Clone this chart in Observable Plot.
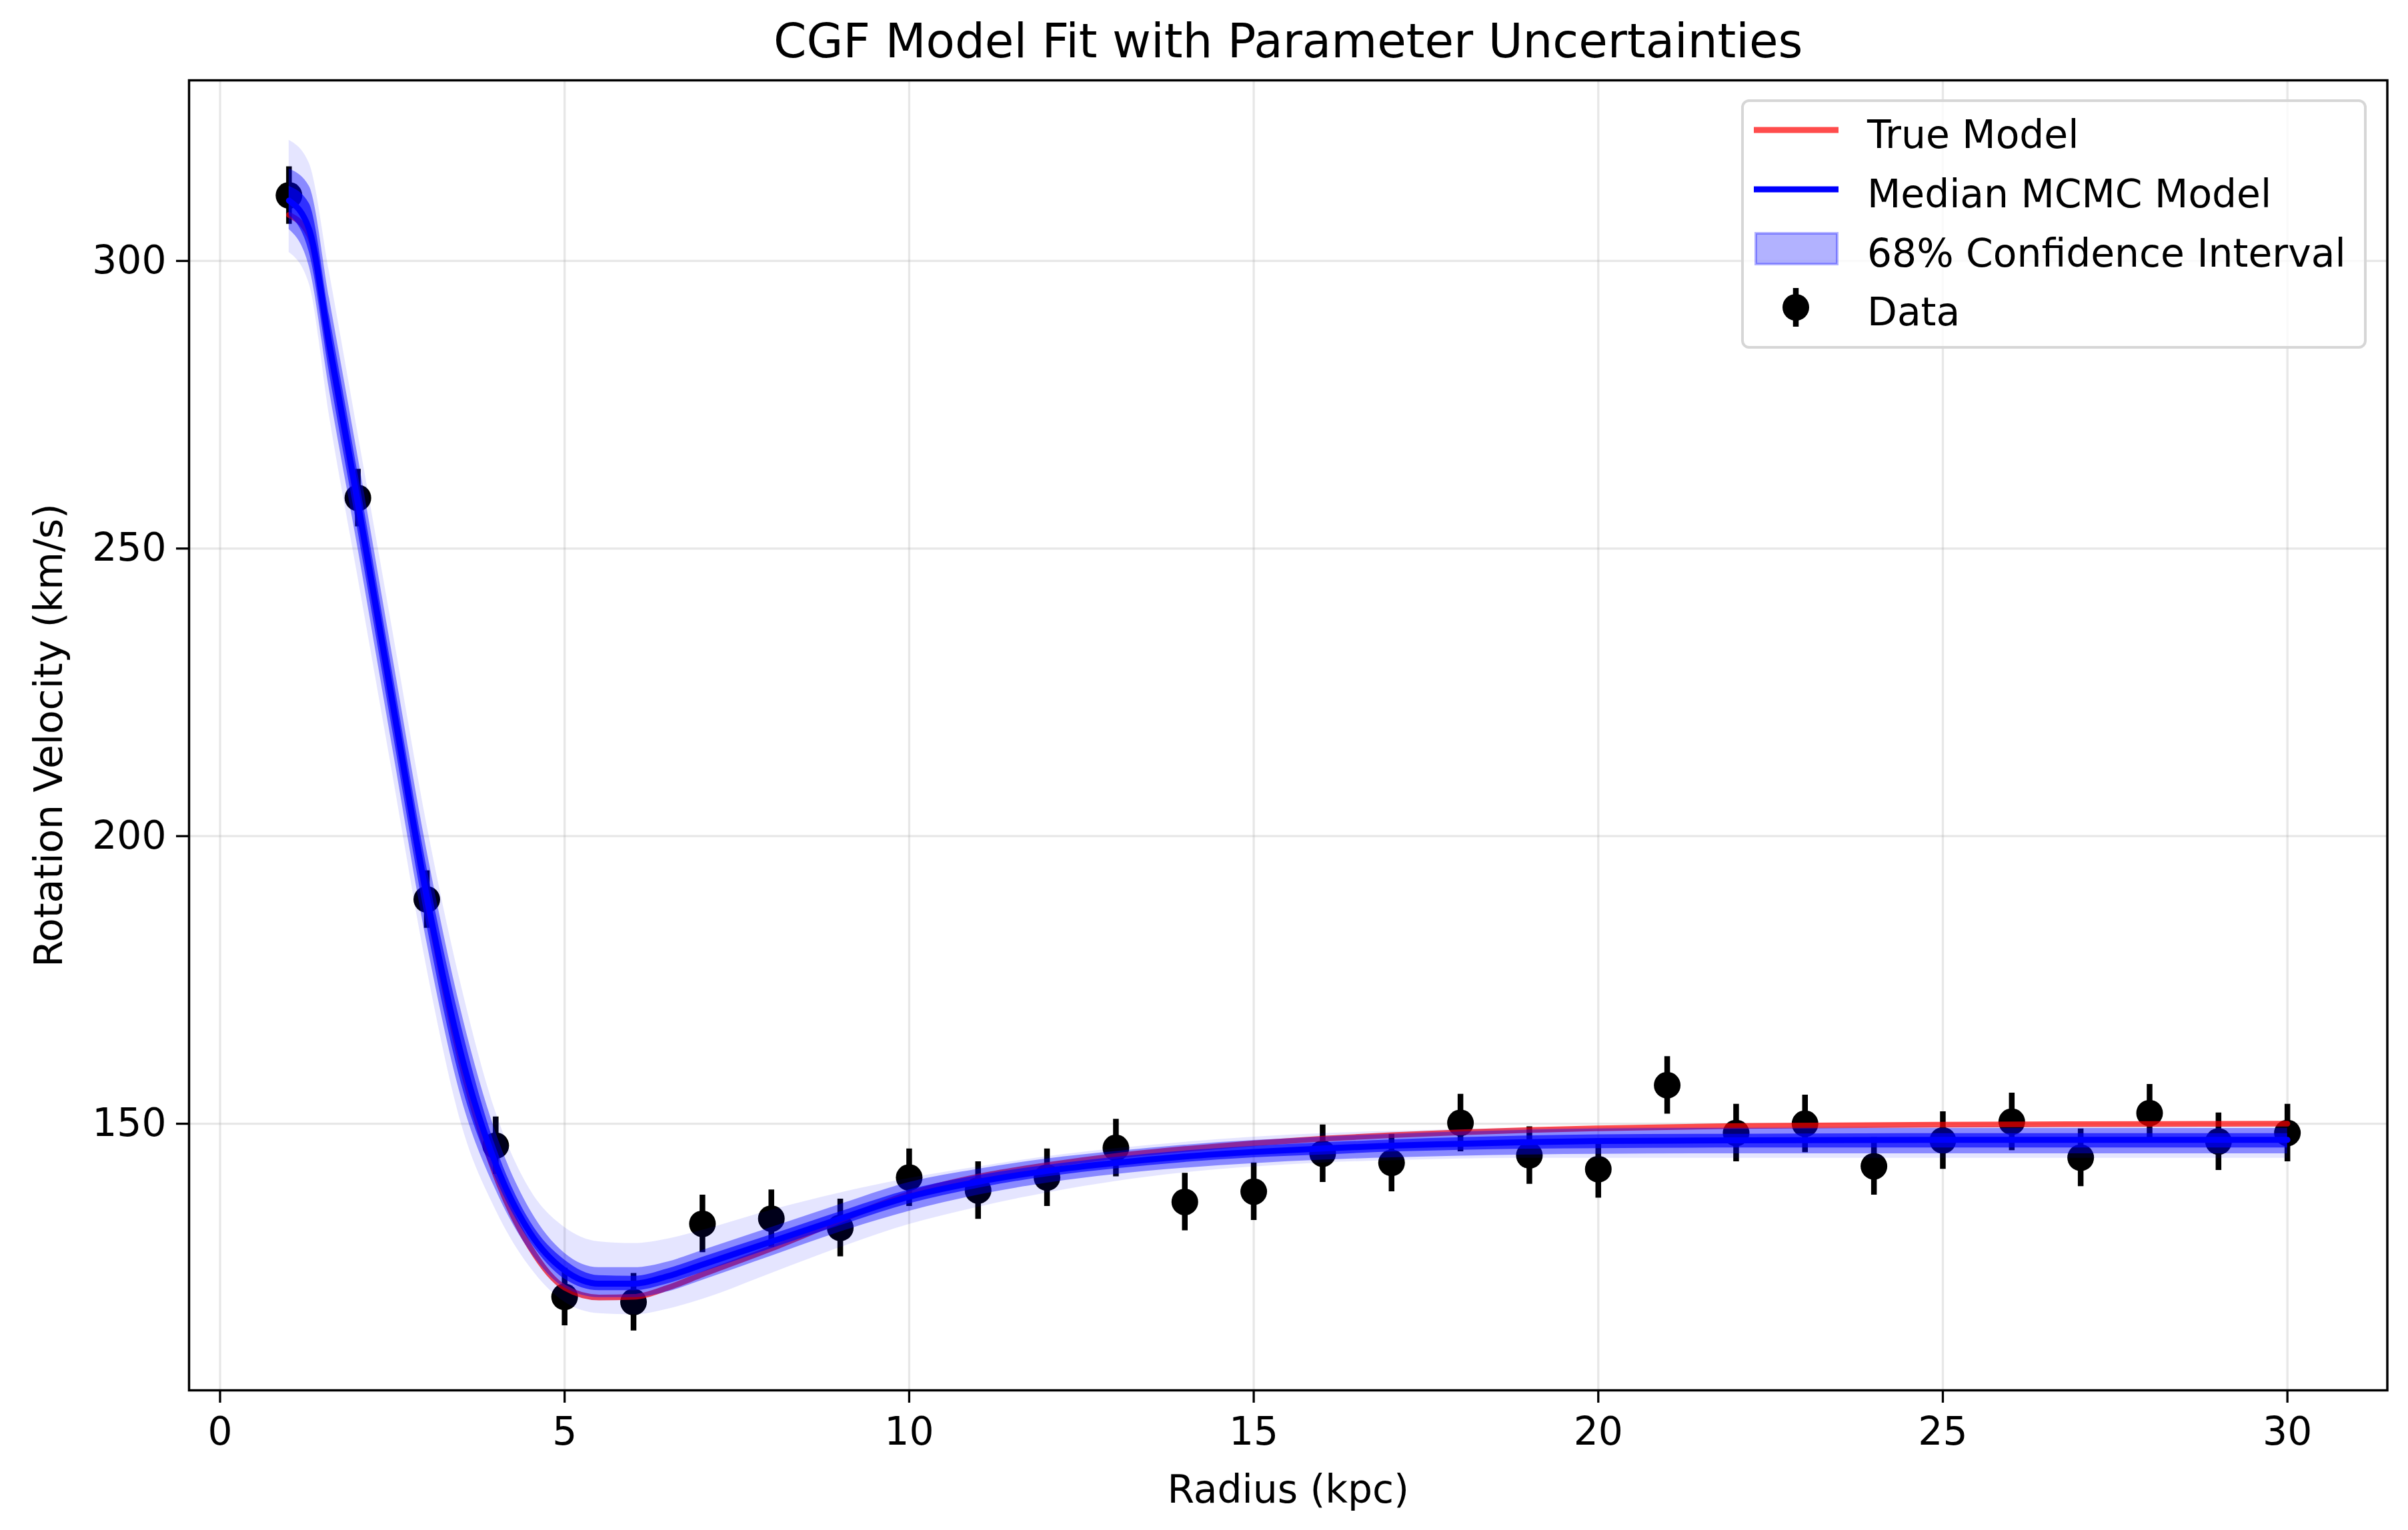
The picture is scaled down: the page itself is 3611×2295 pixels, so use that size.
<!DOCTYPE html>
<html>
<head>
<meta charset="utf-8">
<script src="https://cdn.jsdelivr.net/npm/d3@7"></script>
<script src="https://cdn.jsdelivr.net/npm/@observablehq/plot@0.6"></script>
<style>
  html, body { margin: 0; padding: 0; background: white; }
  #wrap { position: relative; width: 3611px; height: 2295px; }
  #legend {
    position: absolute; left: 2611px; top: 149px; width: 930px; height: 366px;
    border: 4px solid #d6d6d6; border-radius: 12px; background: rgba(255,255,255,0.8);
    font-family: "DejaVu Sans"; font-size: 58.3px; color: black;
  }
  .row { position: absolute; left: 0; height: 60px; }
  .row span { position: absolute; left: 185px; white-space: nowrap; line-height: 1; }
</style>
</head>
<body>
<div id="wrap"></div>
<script>
// ---- observed data ----
const radius = [1,2,3,4,5,6,7,8,9,10,11,12,13,14,15,16,17,18,19,20,21,22,23,24,25,26,27,28,29,30];
const velocity = [311.4,258.8,189.0,146.2,119.9,119.0,132.6,133.5,131.9,140.65,138.4,140.65,145.8,136.4,138.2,144.8,143.2,150.15,144.5,142.1,156.7,148.4,150.0,142.6,147.1,150.35,144.1,151.85,146.9,148.4];
const errors = [5,5,5,5,5,5,5,5,5,5,5,5,5,5,5,5,5,5,5,5,5,5,5,5,5,5,5,5,5,5];

// ---- model curves ----
const modelR = [1,1.293,1.586,2,2.5,3,3.5,4,4.5,5,5.5,6,6.5,7,8,9,10,11,12,13,14,15,16,17,18,19,20,22,25,28,30];
const medianModel = [310.5,305.5,285.5,258,223.5,189.5,162,143,131,124.5,122.2,122.2,123.5,125.5,129.5,133.5,137.3,139.9,141.8,143.2,144.3,145.1,145.7,146.2,146.5,146.8,147.0,147.1,147.2,147.2,147.2];
const trueModel = [308,304.5,285,257.5,223,189,160.5,141,128.5,121.5,119.8,119.9,121.5,123.8,128.3,133.2,137.8,140.8,142.8,144.4,145.6,146.6,147.4,148.0,148.5,148.9,149.2,149.6,149.85,149.95,150.0];
// spread of the MCMC sample curves (outer envelope, 68% band, dense core)
const outerLo = [301.5,296,273,245,211,177,150,135,125,119,117,116.8,117.8,119.5,124,128.5,132.5,135.5,138,140,141.5,142.5,143.2,143.6,143.9,144,144,144,144,144,144];
const outerHi = [321,317,298,270,236,202,174,152,138.5,132,129.5,129.2,130,131.5,135,138,140.5,142.5,144.3,145.7,146.8,147.7,148.3,148.7,149,149.2,149.3,149.4,149.5,149.5,149.5];
const ciLo = [305.5,299,277.5,250,215.5,181.5,154.5,138.5,127.8,121.5,119.8,119.8,120.8,122.8,127,131.2,134.8,137.6,139.7,141.2,142.3,143.1,143.7,144.1,144.4,144.6,144.7,144.8,144.8,144.8,144.8];
const ciHi = [316,313,293.5,266,231.5,197.5,169.5,148.5,135,127.5,125,125,126,128,132,136,139.8,142.1,143.9,145.2,146.3,147.1,147.7,148.2,148.6,148.9,149.1,149.2,149.2,149.2,149.2];
const coreLo = [308,301.5,280.5,253,218.5,184.5,157,140.5,129.5,123,121,121,122.2,124.2,128.3,132.3,136.1,138.8,140.8,142.2,143.3,144.1,144.6,145.1,145.4,145.6,145.7,145.8,145.8,145.8,145.8];
const coreHi = [313,310,290.5,263,228.5,194.5,167,146,133,126.3,123.6,123.5,124.8,126.8,130.7,134.7,138.5,141,142.8,144.2,145.3,146.1,146.7,147.2,147.6,147.9,148.1,148.2,148.3,148.3,148.3];

const xTicks = [0,5,10,15,20,25,30];
const yTicks = [150,200,250,300];
const titleText = "CGF Model Fit with Parameter Uncertainties";
const xLabel = "Radius (kpc)";
const yLabel = "Rotation Velocity (km/s)";
const legendLabels = ["True Model","Median MCMC Model","68% Confidence Interval","Data"];

const points = radius.map((r, i) => ({r, v: velocity[i], lo: velocity[i] - errors[i], hi: velocity[i] + errors[i]}));
const model = modelR.map((r, i) => ({
  r, med: medianModel[i], tru: trueModel[i],
  oLo: outerLo[i], oHi: outerHi[i], cLo: ciLo[i], cHi: ciHi[i], kLo: coreLo[i], kHi: coreHi[i]
}));

const curve = "monotone-x";
const chart = Plot.plot({
  width: 3611, height: 2295,
  marginLeft: 283, marginRight: 31.5, marginTop: 120, marginBottom: 210,
  style: {fontFamily: "DejaVu Sans", fontSize: "58.3px", background: "white", color: "black"},
  x: {domain: [-0.45, 31.45]},
  y: {domain: [103.65, 331.4]},
  marks: [
    Plot.gridX(xTicks, {stroke: "#b0b0b0", strokeOpacity: 0.3, strokeWidth: 3.3}),
    Plot.gridY(yTicks, {stroke: "#b0b0b0", strokeOpacity: 0.3, strokeWidth: 3.3}),
    Plot.ruleX(points, {x: "r", y1: "lo", y2: "hi", stroke: "black", strokeWidth: 8.5}),
    Plot.dot(points, {x: "r", y: "v", r: 20, fill: "black", stroke: null}),
    Plot.line(model, {x: "r", y: "tru", stroke: "red", strokeOpacity: 0.7, strokeWidth: 8.5, curve}),
    Plot.areaY(model, {x: "r", y1: "oLo", y2: "oHi", fill: "blue", fillOpacity: 0.1, curve}),
    Plot.areaY(model, {x: "r", y1: "cLo", y2: "cHi", fill: "blue", fillOpacity: 0.4, curve}),
    Plot.areaY(model, {x: "r", y1: "kLo", y2: "kHi", fill: "blue", fillOpacity: 0.65, curve}),
    Plot.line(model, {x: "r", y: "med", stroke: "blue", strokeWidth: 9, curve}),
    Plot.frame({stroke: "black", strokeWidth: 3.5}),
    Plot.axisX({ticks: xTicks, tickSize: 19, tickPadding: 21, strokeWidth: 3.3, label: null}),
    Plot.axisY({ticks: yTicks, tickSize: 19, tickPadding: 15, strokeWidth: 3.3, label: null}),
    Plot.text([xLabel], {text: d => d, frameAnchor: "bottom", dy: 127, lineAnchor: "top"}),
    Plot.text([yLabel], {text: d => d, frameAnchor: "left", dx: -232, lineAnchor: "top", textAnchor: "middle", rotate: -90}),
    Plot.text([titleText], {text: d => d, frameAnchor: "top", dy: -85, lineAnchor: "top", fontSize: 70.8})
  ]
});
const wrap = document.getElementById("wrap");
wrap.appendChild(chart);

// legend
const leg = document.createElement("div");
leg.id = "legend";
const rowsY = [42, 131, 220, 308]; // row centres relative to box top
const swatches = [
  `<svg width="150" height="60"><line x1="15" x2="142" y1="30" y2="30" stroke="red" stroke-opacity="0.7" stroke-width="9"/></svg>`,
  `<svg width="150" height="60"><line x1="15" x2="142" y1="30" y2="30" stroke="blue" stroke-width="9"/></svg>`,
  `<svg width="150" height="60"><rect x="18" y="7" width="122" height="46" fill="blue" fill-opacity="0.3" stroke="blue" stroke-opacity="0.3" stroke-width="4"/></svg>`,
  `<svg width="150" height="60"><line x1="78" x2="78" y1="1" y2="59" stroke="black" stroke-width="8.5"/><circle cx="78" cy="30" r="20" fill="black"/></svg>`
];
legendLabels.forEach((lab, i) => {
  const row = document.createElement("div");
  row.className = "row";
  row.style.top = (rowsY[i] - 30) + "px";
  row.style.width = "920px";
  row.innerHTML = `<div style="position:absolute;left:0;top:0">${swatches[i]}</div><span style="top:8px">${lab}</span>`;
  leg.appendChild(row);
});
wrap.appendChild(leg);
</script>
</body>
</html>
